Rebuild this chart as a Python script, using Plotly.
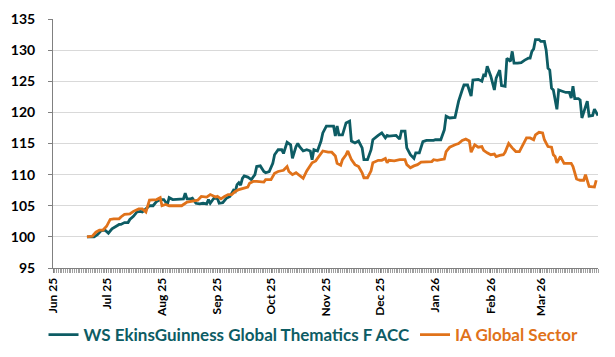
import plotly.graph_objects as go

TEAL = "#0d5c64"
ORANGE = "#e0721a"

fund_name = "WS EkinsGuinness Global Thematics F ACC"
sector_name = "IA Global Sector"

fund_dates = [
    "2025-06-20", "2025-06-24", "2025-06-26", "2025-06-28", "2025-06-30", "2025-07-02", "2025-07-04", "2025-07-06",
    "2025-07-08", "2025-07-09", "2025-07-11", "2025-07-13", "2025-07-14", "2025-07-16", "2025-07-18", "2025-07-20",
    "2025-07-21", "2025-07-23", "2025-07-25", "2025-07-27", "2025-07-29", "2025-07-31", "2025-08-02", "2025-08-04",
    "2025-08-05", "2025-08-07", "2025-08-09", "2025-08-11", "2025-08-13", "2025-08-14", "2025-08-15", "2025-08-17",
    "2025-08-18", "2025-08-20", "2025-08-22", "2025-08-24", "2025-08-26", "2025-08-27", "2025-08-28", "2025-08-30",
    "2025-09-01", "2025-09-02", "2025-09-04", "2025-09-06", "2025-09-08", "2025-09-10", "2025-09-11", "2025-09-12",
    "2025-09-13", "2025-09-14", "2025-09-15", "2025-09-16", "2025-09-18", "2025-09-20", "2025-09-22", "2025-09-23",
    "2025-09-25", "2025-09-27", "2025-09-28", "2025-09-30", "2025-10-02", "2025-10-03", "2025-10-05", "2025-10-07",
    "2025-10-08", "2025-10-10", "2025-10-11", "2025-10-12", "2025-10-13", "2025-10-15", "2025-10-16", "2025-10-17",
    "2025-10-19", "2025-10-21", "2025-10-23", "2025-10-24", "2025-10-25", "2025-10-27", "2025-10-29", "2025-10-30",
    "2025-11-01", "2025-11-03", "2025-11-05", "2025-11-06", "2025-11-07", "2025-11-08", "2025-11-10", "2025-11-12",
    "2025-11-14", "2025-11-15", "2025-11-17", "2025-11-19", "2025-11-21", "2025-11-22", "2025-11-24", "2025-11-26",
    "2025-11-27", "2025-11-30", "2025-12-02", "2025-12-04", "2025-12-05", "2025-12-06", "2025-12-08", "2025-12-10",
    "2025-12-12", "2025-12-13", "2025-12-15", "2025-12-16", "2025-12-18", "2025-12-20", "2025-12-21", "2025-12-23",
    "2025-12-25", "2025-12-27", "2025-12-31", "2026-01-01", "2026-01-04", "2026-01-06", "2026-01-07", "2026-01-09",
    "2026-01-12", "2026-01-13", "2026-01-14", "2026-01-16", "2026-01-17", "2026-01-19", "2026-01-21", "2026-01-22",
    "2026-01-25", "2026-01-27", "2026-01-28", "2026-01-29", "2026-01-30", "2026-02-01", "2026-02-03", "2026-02-04",
    "2026-02-06", "2026-02-07", "2026-02-09", "2026-02-10", "2026-02-12", "2026-02-13", "2026-02-14", "2026-02-16",
    "2026-02-18", "2026-02-20", "2026-02-22", "2026-02-23", "2026-02-24", "2026-02-25", "2026-02-26", "2026-02-28",
    "2026-03-01", "2026-03-03", "2026-03-04", "2026-03-05", "2026-03-06", "2026-03-07", "2026-03-08", "2026-03-10",
    "2026-03-11", "2026-03-13", "2026-03-15", "2026-03-17", "2026-03-18", "2026-03-19", "2026-03-20", "2026-03-22",
    "2026-03-23", "2026-03-24", "2026-03-26", "2026-03-27", "2026-03-28", "2026-03-30", "2026-03-31", "2026-04-02",
]
fund_values = [
    100, 100, 100.4, 101, 101.1, 100.6, 101.3, 101.7,
    102, 102, 102.3, 102.3, 102.8, 103.3, 104, 104.1,
    104, 104.5, 105, 105, 105.7, 106, 106, 105.2,
    106.3, 106, 106, 106.1, 106.1, 107, 106.1, 106.1,
    106.2, 105.4, 105.3, 105.4, 105.3, 106, 105.4, 106.2,
    106.2, 105.4, 105.5, 106.2, 106.5, 107.5, 107.3, 108.4,
    108.7, 108.3, 109.4, 109.8, 109.6, 109.2, 110, 111.3,
    111.4, 110.5, 110.3, 110.5, 111.8, 113.2, 114, 114,
    113.4, 115.2, 115, 114.8, 112.6, 114.5, 115, 114.5,
    113.8, 114, 113.8, 112.4, 114, 113.8, 115.4, 116.7,
    117.8, 117.8, 117.8, 116.2, 117.8, 116.4, 116.4, 118.3,
    118.6, 115.4, 115.1, 115.4, 114.3, 112.4, 112.4, 114,
    115.6, 116.3, 116.7, 115.9, 116.3, 116.2, 116.2, 116.3,
    115.7, 117, 117, 114.3, 113.2, 112.6, 113.5, 113.5,
    115.3, 115.5, 115.5, 115.6, 115.6, 117.2, 119.4, 119.1,
    119.2, 120.4, 121.8, 123.6, 124.4, 124.4, 122.6, 125.2,
    125.3, 125, 126, 125.9, 127.4, 125.8, 123.6, 125.5,
    126.8, 124.3, 124.2, 128.7, 128.2, 129.8, 127.9, 127.9,
    128, 128.4, 128.7, 128.7, 129.8, 130.2, 131.7, 131.7,
    131.4, 131.4, 130, 127.1, 126.8, 123.9, 123.6, 120.5,
    123.6, 123.4, 123.2, 123.2, 122.3, 124.2, 122.2, 122.2,
    122, 119.1, 120.7, 121.8, 119.4, 119.5, 120.5, 119.5,
]

sector_dates = [
    "2025-06-20", "2025-06-23", "2025-06-25", "2025-06-27", "2025-06-29", "2025-07-01", "2025-07-03", "2025-07-05",
    "2025-07-08", "2025-07-09", "2025-07-11", "2025-07-14", "2025-07-16", "2025-07-19", "2025-07-21", "2025-07-23",
    "2025-07-25", "2025-07-29", "2025-07-31", "2025-08-01", "2025-08-03", "2025-08-05", "2025-08-09", "2025-08-12",
    "2025-08-15", "2025-08-18", "2025-08-21", "2025-08-23", "2025-08-26", "2025-08-28", "2025-08-31", "2025-09-01",
    "2025-09-03", "2025-09-05", "2025-09-07", "2025-09-09", "2025-09-11", "2025-09-13", "2025-09-14", "2025-09-16",
    "2025-09-18", "2025-09-19", "2025-09-21", "2025-09-23", "2025-09-25", "2025-09-27", "2025-09-28", "2025-10-01",
    "2025-10-03", "2025-10-05", "2025-10-08", "2025-10-10", "2025-10-11", "2025-10-13", "2025-10-15", "2025-10-17",
    "2025-10-19", "2025-10-21", "2025-10-23", "2025-10-24", "2025-10-26", "2025-10-28", "2025-10-30", "2025-11-02",
    "2025-11-04", "2025-11-06", "2025-11-07", "2025-11-09", "2025-11-10", "2025-11-12", "2025-11-13", "2025-11-15",
    "2025-11-17", "2025-11-19", "2025-11-21", "2025-11-22", "2025-11-24", "2025-11-26", "2025-11-27", "2025-11-30",
    "2025-12-02", "2025-12-04", "2025-12-05", "2025-12-06", "2025-12-09", "2025-12-12", "2025-12-15", "2025-12-16",
    "2025-12-18", "2025-12-20", "2025-12-22", "2025-12-24", "2025-12-27", "2025-12-30", "2025-12-31", "2026-01-02",
    "2026-01-04", "2026-01-06", "2026-01-07", "2026-01-09", "2026-01-12", "2026-01-14", "2026-01-16", "2026-01-18",
    "2026-01-20", "2026-01-21", "2026-01-23", "2026-01-25", "2026-01-27", "2026-01-28", "2026-01-30", "2026-02-01",
    "2026-02-03", "2026-02-04", "2026-02-06", "2026-02-08", "2026-02-09", "2026-02-11", "2026-02-13", "2026-02-15",
    "2026-02-17", "2026-02-19", "2026-02-21", "2026-02-23", "2026-02-25", "2026-02-26", "2026-02-28", "2026-03-02",
    "2026-03-03", "2026-03-05", "2026-03-07", "2026-03-08", "2026-03-09", "2026-03-10", "2026-03-12", "2026-03-14",
    "2026-03-16", "2026-03-18", "2026-03-19", "2026-03-21", "2026-03-23", "2026-03-25", "2026-03-26", "2026-03-28",
    "2026-03-31", "2026-04-01",
]
sector_values = [
    100, 100.1, 100.75, 101.1, 101.1, 101.7, 102.8, 102.9,
    102.9, 103.2, 103.6, 103.7, 104.1, 104.5, 104.5, 104,
    105.9, 106, 106.3, 105, 105.2, 105, 105, 105,
    105.6, 105.7, 105.9, 106.5, 106.4, 106.8, 106.4, 106.5,
    106.1, 106.5, 106.8, 106.8, 107.3, 107.6, 107.7, 107.8,
    108, 108.6, 108.9, 108.9, 108.9, 108.8, 109.2, 109.2,
    110.2, 110.5, 110.7, 111.3, 110.5, 110, 110.3, 109.8,
    109.4, 110.6, 111.4, 111.9, 112.2, 113, 113.8, 113.6,
    113.6, 113, 111.8, 111.5, 112.4, 113.2, 113.8, 112.4,
    111.6, 111.3, 110.3, 109.5, 109.5, 110.6, 111.9, 112.3,
    112.3, 112.6, 111.9, 112.3, 112.2, 112.4, 112.4, 111.6,
    111.1, 111.4, 111.6, 112, 112.1, 112.1, 112.4, 112.3,
    112.4, 112.5, 113.7, 114.4, 114.8, 115, 115.5, 115.7,
    115.4, 113.6, 114.8, 114.4, 114.5, 113.9, 113.5, 113.2,
    113.3, 112.9, 113.1, 113.2, 113.6, 115, 114.3, 113.7,
    113.7, 114.7, 115.9, 115.9, 115.6, 116.4, 116.8, 116.7,
    115.6, 114.5, 114.4, 113.2, 112.9, 111.9, 112.9, 111.8,
    111.8, 111.8, 111.3, 109.3, 109.1, 109.1, 110, 108.1,
    108, 109.1,
]

month_ticks = [
    "2025-06-01", "2025-07-01", "2025-08-01", "2025-09-01", "2025-10-01",
    "2025-11-01", "2025-12-01", "2026-01-01", "2026-02-01", "2026-03-01",
]
month_labels = ["Jun 25", "Jul 25", "Aug 25", "Sep 25", "Oct 25",
                "Nov 25", "Dec 25", "Jan 26", "Feb 26", "Mar 26"]

x_range = ["2025-06-01", "2026-04-02"]
y_range = [95, 135]
y_step = 5

FONT = "Lato, 'Open Sans', Arial, sans-serif"

fig = go.Figure()
fig.add_trace(go.Scatter(
    x=fund_dates, y=fund_values, mode="lines",
    name=f"<span style='color:{TEAL}'>{fund_name}</span>",
    line=dict(color=TEAL, width=2.8),
))
fig.add_trace(go.Scatter(
    x=sector_dates, y=sector_values, mode="lines",
    name=f"<span style='color:{ORANGE}'>{sector_name}</span>",
    line=dict(color=ORANGE, width=2.8),
))

fig.update_layout(
    width=615, height=357,
    margin=dict(l=53, r=17, t=19, b=89, autoexpand=False),
    paper_bgcolor="white", plot_bgcolor="white",
    font=dict(family=FONT, color="#000000", size=12),
    showlegend=True,
    legend=dict(
        orientation="h", x=0.478, xanchor="center", y=-0.269, yanchor="middle",
        font=dict(family=FONT, size=17, weight="bold"),
        itemwidth=30, bgcolor="rgba(0,0,0,0)",
    ),
)
fig.update_xaxes(
    type="date", range=x_range, automargin=False,
    tickmode="array", tickvals=month_ticks, ticktext=month_labels, tickangle=-90,
    ticks="outside", ticklen=4, tickcolor="#808080",
    minor=dict(dtick=86400000, ticks="outside", ticklen=4, tickcolor="#a0a0a0", showgrid=False),
    showline=True, linecolor="#808080", linewidth=1,
    showgrid=False, zeroline=False,
    tickfont=dict(family=FONT, size=12, weight="bold", color="#000000"),
)
fig.update_yaxes(
    range=y_range, dtick=y_step, tick0=95, automargin=False,
    ticks="outside", ticklen=4, tickcolor="#808080",
    showline=True, linecolor="#808080", linewidth=1,
    showgrid=True, gridcolor="#d9d9d9", gridwidth=1, zeroline=False,
    tickfont=dict(family=FONT, size=14, weight="bold", color="#000000"),
    ticklabelstandoff=10,
)

fig.write_html(
    "out.html",
    config={"displayModeBar": False},
    post_script="document.body.style.margin='0';document.body.style.overflow='hidden';",
)
